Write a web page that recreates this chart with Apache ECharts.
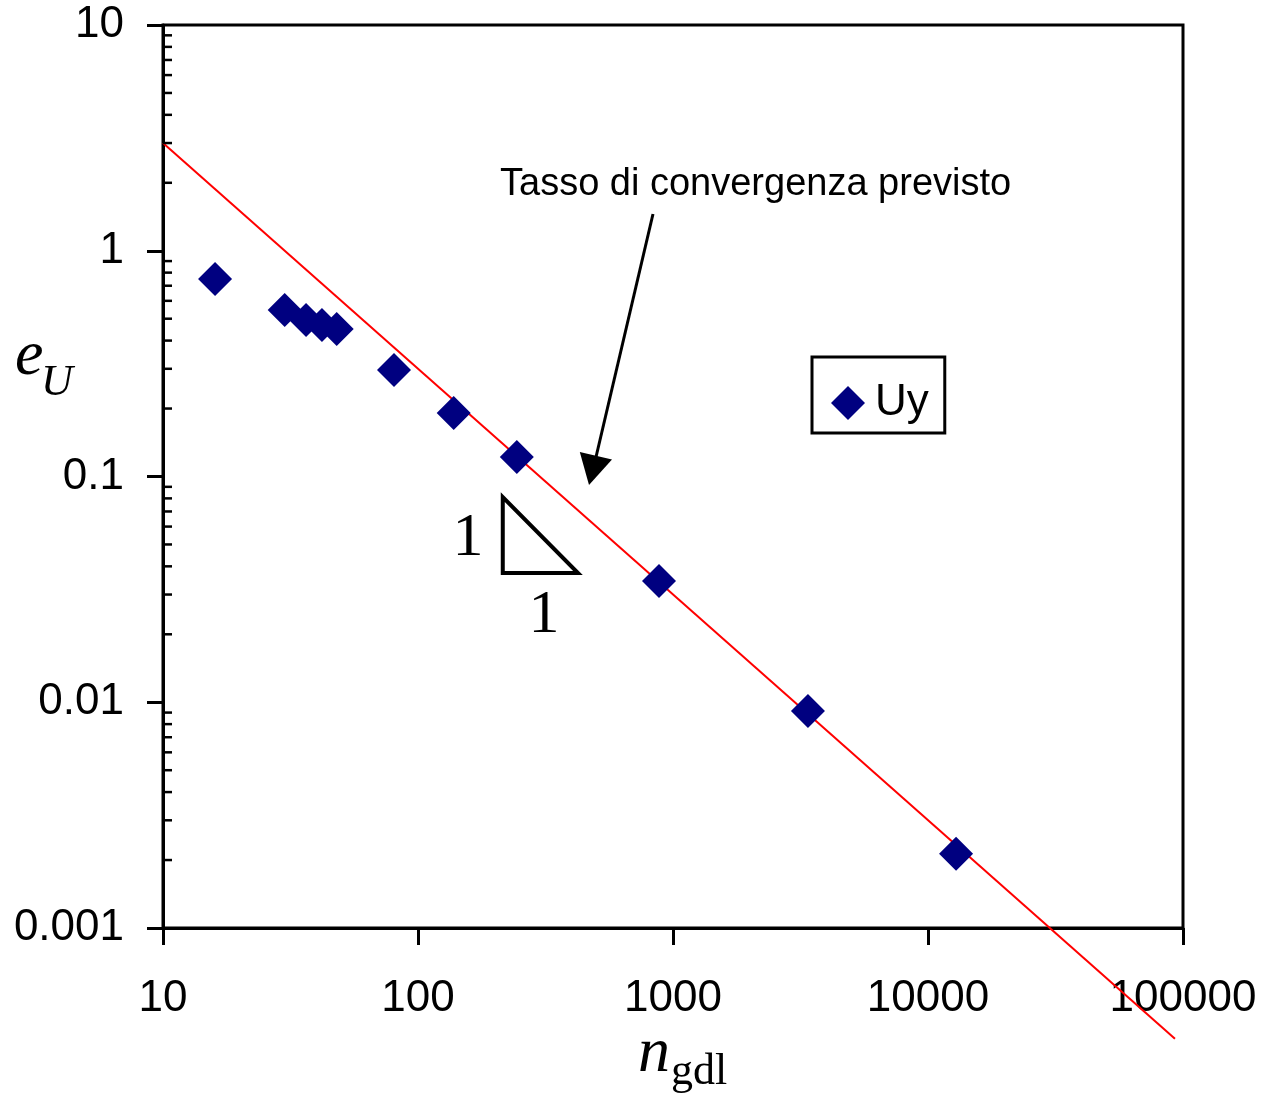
<!DOCTYPE html>
<html>
<head>
<meta charset="utf-8">
<style>
  html, body { margin: 0; padding: 0; background: #fff; }
  #chart { width: 1267px; height: 1094px; }
</style>
<script src="https://cdn.jsdelivr.net/npm/echarts@6/dist/echarts.min.js"></script>
</head>
<body>
<div id="chart"></div>
<script>
// Convergence of the displacement error e_U against the number of DOFs (log-log)
const xTickLabels = ['10', '100', '1000', '10000', '100000'];
const yTickLabels = ['0.001', '0.01', '0.1', '1', '10'];

// Uy: number of degrees of freedom and corresponding error
const nGdl = [16, 30, 36.4, 42, 48, 80.5, 138, 244, 881, 3381, 12882];
const eU = [0.75, 0.547, 0.493, 0.469, 0.45, 0.296, 0.191, 0.122, 0.0344, 0.00914, 0.00213];

// expected convergence rate (slope -1), end points
const rateN = [10, 93000];
const rateE = [3, 0.000323];

// slope triangle vertices (n, e)
const triN = [215, 215, 424];
const triE = [0.0811, 0.03736, 0.03736];

// y-axis minor ticks (2..9 per decade)
const yMinorTicks = [
  0.002, 0.003, 0.004, 0.005, 0.006, 0.007, 0.008, 0.009,
  0.02, 0.03, 0.04, 0.05, 0.06, 0.07, 0.08, 0.09,
  0.2, 0.3, 0.4, 0.5, 0.6, 0.7, 0.8, 0.9,
  2, 3, 4, 5, 6, 7, 8, 9
];

const SANS = '"Liberation Sans", Arial, sans-serif';
const SERIF = '"Liberation Serif", "Times New Roman", serif';

const chart = echarts.init(document.getElementById('chart'), null, { renderer: 'canvas' });

const uyData = nGdl.map((n, i) => [n, eU[i]]);
const rateData = rateN.map((n, i) => [n, rateE[i]]);
const triData = triN.map((n, i) => [n, triE[i]]);

chart.setOption({
  animation: false,
  backgroundColor: '#fff',
  grid: {
    left: 163, top: 25, right: 84, bottom: 166,
    show: true, borderColor: '#000', borderWidth: 3, backgroundColor: 'transparent'
  },
  xAxis: {
    type: 'log', logBase: 10, min: 10, max: 100000,
    axisLine: { lineStyle: { color: '#000', width: 3 } },
    axisTick: { inside: false, length: 17, lineStyle: { color: '#000', width: 3 } },
    splitLine: { show: false },
    minorTick: { show: false },
    axisLabel: {
      margin: 49, color: '#000', fontFamily: SANS, fontSize: 44,
      formatter: v => xTickLabels[Math.round(Math.log10(v)) - 1]
    }
  },
  yAxis: {
    type: 'log', logBase: 10, min: 0.001, max: 10,
    axisLine: { lineStyle: { color: '#000', width: 3 } },
    axisTick: { inside: false, length: 16, lineStyle: { color: '#000', width: 3 } },
    splitLine: { show: false },
    minorTick: { show: false },
    axisLabel: {
      margin: 39, color: '#000', fontFamily: SANS, fontSize: 44,
      padding: [6, 0, 0, 0],
      formatter: v => yTickLabels[Math.round(Math.log10(v)) + 3]
    }
  },
  legend: {
    data: ['Uy'],
    left: 812, top: 357,
    orient: 'vertical',
    backgroundColor: '#fff',
    borderColor: '#000', borderWidth: 3, borderRadius: 0,
    padding: [24, 16, 8, 19],
    itemWidth: 34, itemHeight: 34,
    icon: 'diamond',
    itemStyle: { opacity: 1 },
    textStyle: { color: '#000', fontFamily: SANS, fontSize: 44, padding: [0, 0, 0, 5] }
  },
  series: [
    {
      name: 'rate',
      type: 'line',
      data: rateData,
      clip: false,
      symbol: 'none',
      lineStyle: { color: '#ff0000', width: 2 },
      z: 2,
      silent: true
    },
    {
      name: 'Uy',
      type: 'scatter',
      data: uyData,
      symbol: 'diamond',
      symbolSize: 34,
      itemStyle: { color: '#000080', opacity: 1 },
      z: 5
    },
    {
      name: 'minorTicks',
      type: 'custom',
      data: yMinorTicks.map(v => [10, v]),
      silent: true,
      clip: false,
      z: 6,
      renderItem: (params, api) => {
        const p = api.coord([api.value(0), api.value(1)]);
        return {
          type: 'line',
          shape: { x1: p[0], y1: p[1], x2: p[0] + 9, y2: p[1] },
          style: { stroke: '#000', lineWidth: 2.5 }
        };
      }
    },
    {
      name: 'slope',
      type: 'custom',
      data: [0],
      silent: true,
      clip: false,
      z: 4,
      renderItem: (params, api) => {
        const pts = triData.map(d => api.coord(d));
        return {
          type: 'polygon',
          shape: { points: pts },
          style: { fill: 'none', stroke: '#000', lineWidth: 4, lineJoin: 'miter' }
        };
      }
    }
  ],
  graphic: [
    // y-axis title e_U
    { type: 'text', x: 15, y: 357, style: { text: 'e', font: 'italic 64px ' + SERIF, fill: '#000', align: 'left', verticalAlign: 'middle' } },
    { type: 'text', x: 41, y: 383, style: { text: 'U', font: 'italic 44px ' + SERIF, fill: '#000', align: 'left', verticalAlign: 'middle' } },
    // x-axis title n_gdl
    { type: 'text', x: 638, y: 1054, style: { text: 'n', font: 'italic 64px ' + SERIF, fill: '#000', align: 'left', verticalAlign: 'middle' } },
    { type: 'text', x: 671, y: 1072, style: { text: 'gdl', font: '44px ' + SERIF, fill: '#000', align: 'left', verticalAlign: 'middle' } },
    // slope labels
    { type: 'text', x: 468, y: 539, style: { text: '1', font: '62px ' + SERIF, fill: '#000', align: 'center', verticalAlign: 'middle' } },
    { type: 'text', x: 544, y: 616, style: { text: '1', font: '62px ' + SERIF, fill: '#000', align: 'center', verticalAlign: 'middle' } },
    // annotation
    { type: 'text', x: 500, y: 185, style: { text: 'Tasso di convergenza previsto', font: '38px ' + SANS, fill: '#000', align: 'left', verticalAlign: 'middle' } },
    { type: 'line', shape: { x1: 653, y1: 214, x2: 596, y2: 457 }, style: { stroke: '#000', lineWidth: 3 } },
    { type: 'polygon', shape: { points: [[589, 485], [612, 459.6], [579.8, 452]] }, style: { fill: '#000' } }
  ]
});
</script>
</body>
</html>
